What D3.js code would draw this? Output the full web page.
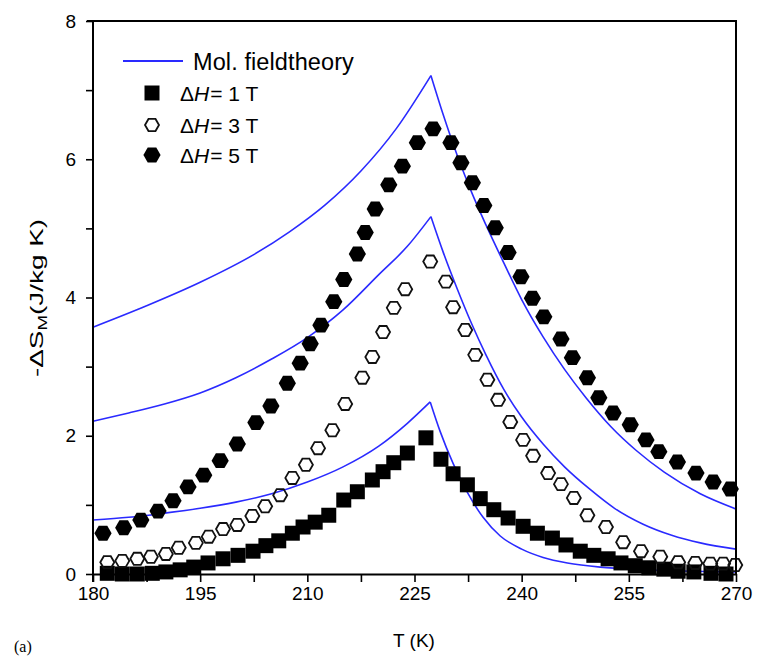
<!DOCTYPE html>
<html><head><meta charset="utf-8">
<script src="https://cdn.jsdelivr.net/npm/d3@7"></script>
<style>
html,body{margin:0;padding:0;background:#fff;}
svg{display:block;font-family:"Liberation Sans",Arial,Helvetica,sans-serif;}
</style></head>
<body>
<svg id="c" width="760" height="661"></svg>
<script>
// ---- data ----
const xTicks = [180, 195, 210, 225, 240, 255, 270];
const yTicks = [0, 2, 4, 6, 8];

// ΔH = 5 T (filled hexagons)
const T5 = [181.4,184.3,186.7,189.1,191.2,193.3,195.5,197.8,200.2,202.8,204.9,207.2,209.0,210.4,211.9,213.7,215.1,217.0,218.1,219.5,221.4,223.3,225.4,227.6,230.1,231.5,233.1,234.7,236.3,238.1,239.9,241.5,243.1,245.5,247.1,249.2,250.8,252.8,255.2,257.4,259.2,261.8,264.4,266.8,269.2];
const S5 = [0.59,0.67,0.78,0.91,1.06,1.26,1.43,1.64,1.88,2.19,2.43,2.76,3.05,3.33,3.60,3.94,4.26,4.63,4.94,5.28,5.63,5.90,6.24,6.44,6.24,5.95,5.66,5.33,5.01,4.65,4.30,3.99,3.72,3.40,3.13,2.84,2.55,2.33,2.16,1.94,1.77,1.62,1.46,1.33,1.23];

// ΔH = 3 T (open hexagons)
const T3 = [182.0,184.1,186.2,188.1,190.2,192.0,194.4,196.2,198.2,200.2,202.3,204.1,206.2,207.9,209.8,211.5,213.5,215.3,217.7,219.1,220.6,222.1,223.7,227.2,229.4,230.4,232.1,233.5,235.2,236.7,238.4,240.2,241.6,243.7,245.5,247.3,249.2,251.8,254.2,256.7,259.4,261.9,264.3,266.4,268.2,269.9];
const S3 = [0.17,0.19,0.22,0.25,0.29,0.38,0.45,0.54,0.65,0.71,0.84,0.98,1.14,1.39,1.58,1.82,2.08,2.46,2.84,3.14,3.50,3.85,4.12,4.52,4.23,3.86,3.53,3.17,2.81,2.52,2.20,1.94,1.71,1.46,1.30,1.10,0.85,0.68,0.46,0.33,0.25,0.17,0.16,0.15,0.15,0.13];

// ΔH = 1 T (filled squares)
const T1 = [182.0,184.1,186.2,188.3,190.2,192.2,194.1,196.1,198.2,200.3,202.4,204.2,206.0,207.9,209.4,211.1,213.0,215.1,217.0,219.1,220.6,222.1,224.0,226.6,228.7,230.4,232.4,234.2,236.1,238.1,240.2,242.2,244.3,246.2,248.2,250.1,252.1,253.9,255.9,257.8,259.9,261.9,264.1,266.5,268.6];
const S1 = [0.01,0.00,0.00,0.01,0.03,0.06,0.10,0.16,0.22,0.27,0.33,0.41,0.48,0.59,0.68,0.75,0.85,1.07,1.19,1.36,1.48,1.61,1.75,1.97,1.66,1.45,1.29,1.09,0.93,0.81,0.69,0.59,0.52,0.42,0.33,0.27,0.22,0.16,0.12,0.09,0.07,0.04,0.03,0.01,0.00];

// Molecular field theory curves (cusp at the Curie temperature)
const MF5T = [180,187.5,195,202.5,207.5,212.5,217.5,222.5,227.3,229,231,233,235,237.5,240,243,246,249,252.5,256,260,265,270];
const MF5V = [3.57,3.88,4.22,4.62,4.95,5.34,5.83,6.45,7.21,6.65,6.05,5.52,5.05,4.50,3.97,3.43,2.96,2.55,2.13,1.79,1.47,1.16,0.94];
const MF3T = [180,185,190,195,200,205,210,215,220,224,227.3,229,231,233,235,237.5,240,243,246,249.5,253,257,261,265,270];
const MF3V = [2.21,2.33,2.46,2.62,2.84,3.11,3.42,3.82,4.33,4.74,5.17,4.66,4.12,3.62,3.17,2.67,2.27,1.88,1.55,1.23,0.95,0.72,0.56,0.45,0.36];
const MF1T = [180,185,190,195,200,205,210,215,220,224,227.2,228.6,230.4,232.4,234.6,237,240,243,246.4,251,256.6,263.6,270];
const MF1V = [0.78,0.82,0.88,0.95,1.04,1.16,1.33,1.55,1.85,2.18,2.49,2.06,1.60,1.18,0.82,0.55,0.36,0.24,0.16,0.10,0.065,0.04,0.03];

// ---- drawing ----
const svg = d3.select("#c");
const x = d3.scaleLinear().domain([180, 270]).range([93, 736]);
const y = d3.scaleLinear().domain([0, 8]).range([574, 21]);
const blue = "#2a2aff";

const hexagon = { draw(ctx, size) {
  const r = Math.sqrt(size / (1.5 * Math.sqrt(3)));
  for (let i = 0; i < 6; i++) {
    const a = Math.PI / 3 * i;
    const px = r * Math.cos(a), py = r * Math.sin(a);
    if (i === 0) ctx.moveTo(px, py); else ctx.lineTo(px, py);
  }
  ctx.closePath();
}};

// curves: each branch drawn smooth, meeting in a cusp at the peak
const line = d3.line().x(d => x(d[0])).y(d => y(d[1])).curve(d3.curveMonotoneX);
[[MF5T, MF5V], [MF3T, MF3V], [MF1T, MF1V]].forEach(([t, v]) => {
  const pts = t.map((d, i) => [d, v[i]]);
  const k = d3.maxIndex(v);
  [pts.slice(0, k + 1), pts.slice(k)].forEach(seg => {
    svg.append("path").datum(seg)
      .attr("d", line).attr("fill", "none").attr("stroke", blue).attr("stroke-width", 1.6)
      .attr("stroke-linejoin", "miter");
  });
});

// markers
const hexSize = 1.5 * Math.sqrt(3) * 8.6 * 8.6;
const hexOpenSize = 1.5 * Math.sqrt(3) * 7 * 7;
const sq = d3.symbol().type(d3.symbolSquare).size(15 * 15);
const hexF = d3.symbol().type(hexagon).size(hexSize);
const hexO = d3.symbol().type(hexagon).size(hexOpenSize);

svg.append("g").selectAll("path").data(T1.map((d, i) => [d, S1[i]])).join("path")
  .attr("transform", d => `translate(${x(d[0])},${y(d[1])})`).attr("d", sq).attr("fill", "#000");
svg.append("g").selectAll("path").data(T3.map((d, i) => [d, S3[i]])).join("path")
  .attr("transform", d => `translate(${x(d[0])},${y(d[1])})`).attr("d", hexO)
  .attr("fill", "none").attr("stroke", "#111").attr("stroke-width", 1.8);
svg.append("g").selectAll("path").data(T5.map((d, i) => [d, S5[i]])).join("path")
  .attr("transform", d => `translate(${x(d[0])},${y(d[1])})`).attr("d", hexF).attr("fill", "#000");

// frame
svg.append("line").attr("x1", x(180) - 6).attr("x2", x(270) + 1).attr("y1", y(8)).attr("y2", y(8))
  .attr("stroke", "#000").attr("stroke-width", 2);
svg.append("line").attr("x1", x(270)).attr("x2", x(270)).attr("y1", y(8)).attr("y2", y(0))
  .attr("stroke", "#000").attr("stroke-width", 2);

// axes
const xAxis = d3.axisBottom(x).tickValues(d3.range(180, 270.1, 7.5))
  .tickFormat(d => xTicks.includes(d) ? d : "").tickSize(8).tickSizeOuter(0).tickPadding(5);
const gx = svg.append("g").attr("transform", `translate(0,${y(0)})`).call(xAxis);
const yAxis = d3.axisLeft(y).tickValues(d3.range(0, 8.1, 1))
  .tickFormat(d => yTicks.includes(d) ? d : "").tickSize(7).tickSizeOuter(0).tickPadding(10);
const gy = svg.append("g").attr("transform", `translate(${x(180)},0)`).call(yAxis);
[gx, gy].forEach(g => {
  g.select(".domain").attr("stroke", "#000").attr("stroke-width", 2);
  g.selectAll(".tick line").attr("stroke", "#000").attr("stroke-width", 1.6);
  g.selectAll("text").attr("font-family", "Liberation Sans, Arial, sans-serif")
    .attr("font-size", 19).attr("fill", "#000");
});
gy.select(".domain").attr("d", `M0,${y(0) + 8}V${y(8)}`);

// axis titles (y title is stretched along its baseline as in the original)
const yl = svg.append("text").attr("transform", "translate(43,298) rotate(-90) scale(1.55,1)")
  .attr("text-anchor", "middle").attr("font-size", 18).attr("fill", "#000");
yl.append("tspan").text("-ΔS");
yl.append("tspan").attr("font-size", 12).attr("dy", 4).text("M");
yl.append("tspan").attr("dy", -4).text("(J/kg K)");

svg.append("text").attr("x", 414).attr("y", 647).attr("text-anchor", "middle")
  .attr("font-size", 19).attr("fill", "#000").text("T (K)");
svg.append("text").attr("x", 14).attr("y", 652).attr("font-family", "Liberation Serif, Times New Roman, serif")
  .attr("font-size", 16).attr("fill", "#000").text("(a)");

// legend
const lg = svg.append("g");
lg.append("line").attr("x1", 123).attr("x2", 183).attr("y1", 61).attr("y2", 61)
  .attr("stroke", blue).attr("stroke-width", 1.8);
lg.append("text").attr("x", 193).attr("y", 70).attr("font-size", 23.5).attr("fill", "#000")
  .attr("letter-spacing", 0.1).text("Mol. fieldtheory");
const legItems = [
  { sym: sq, fill: "#000", stroke: "none", cy: 93, lab: "1 T" },
  { sym: hexO, fill: "none", stroke: "#111", cy: 125, lab: "3 T" },
  { sym: hexF, fill: "#000", stroke: "none", cy: 155, lab: "5 T" }
];
legItems.forEach(it => {
  lg.append("path").attr("transform", `translate(152,${it.cy})`).attr("d", it.sym)
    .attr("fill", it.fill).attr("stroke", it.stroke).attr("stroke-width", 1.8);
  const t = lg.append("text").attr("x", 180).attr("y", it.cy + 7.5).attr("font-size", 21).attr("fill", "#000");
  t.append("tspan").text("Δ");
  t.append("tspan").attr("font-style", "italic").text("H");
  t.append("tspan").attr("dx", 1).text("= " + it.lab);
});
</script>
</body></html>
